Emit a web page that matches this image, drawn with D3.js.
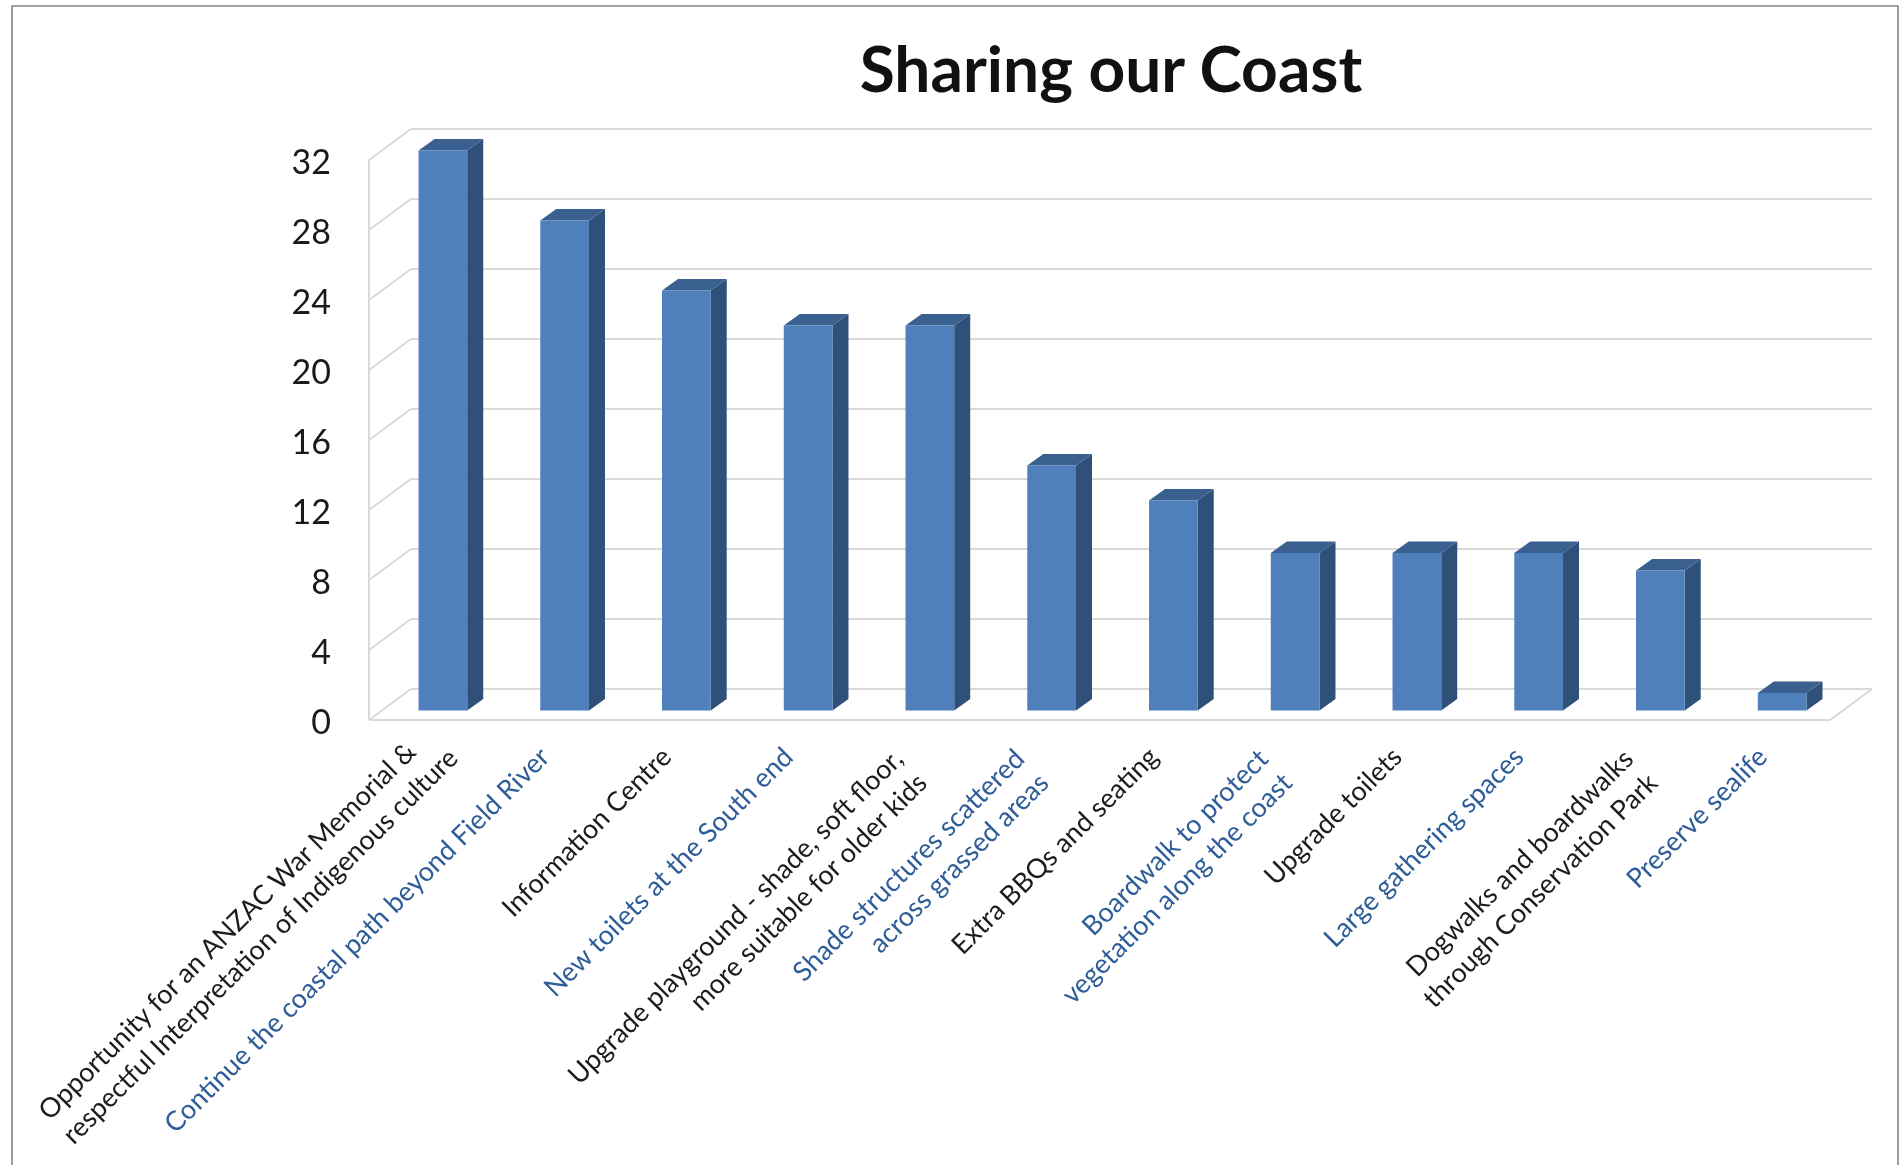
<!DOCTYPE html>
<html lang="en">
<head>
<meta charset="UTF-8">
<title>Sharing our Coast</title>
<style>
    body{margin:0;background:#fff;}
    svg{display:block;filter:blur(0.6px);}
    text{font-family:Lato,"Open Sans",sans-serif;}
</style>
<script src="https://cdn.jsdelivr.net/npm/d3@7/dist/d3.min.js"></script>
</head>
<body>
<div id="container"></div>
<script>
var categories = [
    "Opportunity for an ANZAC War Memorial &\nrespectful Interpretation of Indigenous culture",
    "Continue the coastal path beyond Field River",
    "Information Centre",
    "New toilets at the South end",
    "Upgrade playground - shade, soft floor,\nmore suitable for older kids",
    "Shade structures scattered\nacross grassed areas",
    "Extra BBQs and seating",
    "Boardwalk to protect\nvegetation along the coast",
    "Upgrade toilets",
    "Large gathering spaces",
    "Dogwalks and boardwalks\nthrough Conservation Park",
    "Preserve sealife"
];
var values = [32, 28, 24, 22, 22, 14, 12, 9, 9, 9, 8, 1];
var yTicks = [0, 4, 8, 12, 16, 20, 24, 28, 32];
var title = "Sharing our Coast";

var w = 1903, h = 1165;
// depth of the 3d box and where the bars sit inside it
var wallDx = 42, wallDy = -31, barOffX = 13, barOffY = -9.5, barDx = 16, barDy = -11.5;

var x = d3.scaleBand().domain(categories).range([369, 1830]).paddingInner(0.6).paddingOuter(0.3);
var y = d3.scaleLinear().domain([0, 32]).range([720, 160]);

var svg = d3.select('#container').append('svg').attr('width', w).attr('height', h);

// frame of the picture, open at the bottom
svg.append('path')
    .attr('d', d3.line()([[12, h], [12, 6], [1898, 6], [1898, h]]))
    .attr('fill', 'none').attr('stroke', '#7f8b80').attr('stroke-width', 1.6);

var grid = svg.append('g').attr('fill', 'none').attr('stroke', '#d9d9d9').attr('stroke-width', 2);
grid.selectAll('line.back').data(yTicks).enter().append('line').attr('class', 'back')
    .attr('x1', 369 + wallDx).attr('x2', 1830 + wallDx)
    .attr('y1', function (d) {return y(d) + wallDy})
    .attr('y2', function (d) {return y(d) + wallDy});
grid.selectAll('line.side').data(yTicks).enter().append('line').attr('class', 'side')
    .attr('x1', 369).attr('x2', 369 + wallDx)
    .attr('y1', function (d) {return y(d)})
    .attr('y2', function (d) {return y(d) + wallDy});
grid.append('line').attr('x1', 369).attr('x2', 369).attr('y1', y(32)).attr('y2', y(0));
grid.append('line').attr('x1', 369).attr('x2', 1830).attr('y1', y(0)).attr('y2', y(0));
grid.append('line').attr('x1', 1830).attr('x2', 1830 + wallDx).attr('y1', y(0)).attr('y2', y(0) + wallDy);

// bars: side, top, then front face
var bars = svg.selectAll('g.bar').data(values).enter().append('g').attr('class', 'bar')
    .attr('transform', function (d, i) {return 'translate(' + (x(categories[i]) + barOffX) + ',' + barOffY + ')'});
var bw = x.bandwidth();
bars.append('path').attr('fill', '#2f5078')
    .attr('d', function (d) {
        return d3.line()([[bw, y(d)], [bw + barDx, y(d) + barDy], [bw + barDx, y(0) + barDy], [bw, y(0)]]) + 'Z';
    });
bars.append('path').attr('fill', '#3a608f')
    .attr('d', function (d) {
        return d3.line()([[0, y(d)], [barDx, y(d) + barDy], [bw + barDx, y(d) + barDy], [bw, y(d)]]) + 'Z';
    });
bars.append('rect').attr('fill', '#4f80bc')
    .attr('x', 0).attr('width', bw)
    .attr('y', function (d) {return y(d)})
    .attr('height', function (d) {return y(0) - y(d)});

// y axis labels
var yAxis = d3.axisLeft(y).tickValues(yTicks).tickSize(0).tickPadding(0);
var yg = svg.append('g').attr('transform', 'translate(331,3)').call(yAxis);
yg.select('.domain').remove();
yg.selectAll('text').attr('fill', '#1a1a1a').style('font-size', '34px');

// rotated category labels: lines share their right end, except the first label which shares its left end
var labelY = 752, lineGap = 34;
var labels = svg.selectAll('g.label').data(categories).enter().append('g').attr('class', 'label')
    .attr('transform', function (d, i) {
        var n = d.split('\n').length;
        var ly = labelY + (n - 1) * 14 - (i === 0 ? 7 : 0);
        return 'translate(' + (x(d) + bw / 2 - 7) + ',' + ly + ') rotate(-45)';
    })
    .attr('fill', function (d, i) {return i % 2 ? '#2f5d98' : '#1c1c1c'});
labels.each(function (d, idx) {
    var g = d3.select(this), lines = d.split('\n');
    var ts = g.selectAll('text').data(lines).enter().append('text')
        .attr('text-anchor', idx === 0 ? 'start' : 'end')
        .attr('dy', '0.35em')
        .style('font-size', '27px')
        .attr('y', function (l, i) {return (i - (lines.length - 1) / 2) * lineGap})
        .text(function (l) {return l});
    if (idx === 0) ts.attr('x', -ts.node().getComputedTextLength());
});

svg.append('text').attr('x', 1111).attr('y', 92).attr('text-anchor', 'middle')
    .attr('font-weight', 700).attr('fill', '#111').style('font-size', '64px').text(title);
</script>
</body>
</html>
